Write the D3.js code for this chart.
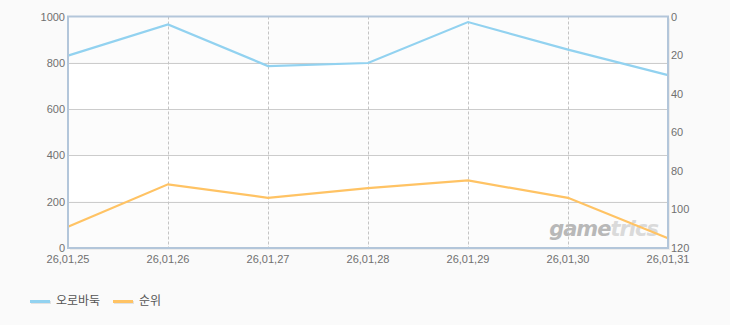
<!DOCTYPE html>
<html>
<head>
<meta charset="utf-8">
<script src="https://cdn.jsdelivr.net/npm/d3@7"></script>
<style>
  body { margin: 0; background: #fafafa; }
  text { font-family: "Liberation Sans", "Noto Sans CJK KR", sans-serif; }
</style>
</head>
<body>
<div id="chart"></div>
<script>
const WIDTH = 730;
const HEIGHT = 325;

// data
const dates = ['26,01,25', '26,01,26', '26,01,27', '26,01,28', '26,01,29', '26,01,30', '26,01,31'];
const scoreValues = [831, 966, 786, 799, 976, 857, 747];   // 오로바둑, left axis
const rankValues = [109, 87, 94, 89, 85, 94, 115];          // 순위, right axis (reversed)
const leftTicks = [0, 200, 400, 600, 800, 1000];
const rightTicks = [0, 20, 40, 60, 80, 100, 120];
const seriesNames = ['오로바둑', '순위'];
const seriesColors = ['#92d2f0', '#ffc364'];

const plot = { left: 68, right: 668, top: 16.5, bottom: 248 };

const svg = d3.select('#chart').append('svg')
    .attr('width', WIDTH)
    .attr('height', HEIGHT);

const x = d3.scalePoint().domain(dates).range([plot.left, plot.right]);
const yLeft = d3.scaleLinear().domain([0, 1000]).range([plot.bottom, plot.top]);
const yRight = d3.scaleLinear().domain([0, 120]).range([plot.top, plot.bottom]);

// shadow behind the frame
svg.append('rect')
    .attr('x', plot.left + 2).attr('y', plot.top + 2)
    .attr('width', plot.right - plot.left).attr('height', plot.bottom - plot.top)
    .attr('fill', '#ececec');

// alternating bands
const bands = d3.pairs(leftTicks);
svg.append('g').selectAll('rect')
    .data(bands)
    .enter().append('rect')
    .attr('x', plot.left)
    .attr('y', d => yLeft(d[1]))
    .attr('width', plot.right - plot.left)
    .attr('height', d => yLeft(d[0]) - yLeft(d[1]))
    .attr('fill', (d, i) => i % 2 === 0 ? '#fcfcfc' : '#ffffff');

// horizontal grid
svg.append('g').selectAll('line')
    .data(leftTicks.slice(1, -1))
    .enter().append('line')
    .attr('x1', plot.left).attr('x2', plot.right)
    .attr('y1', d => Math.round(yLeft(d)) + 0.5)
    .attr('y2', d => Math.round(yLeft(d)) + 0.5)
    .attr('stroke', '#cccccc');

// vertical dashed grid
svg.append('g').selectAll('line')
    .data(dates.slice(1, -1))
    .enter().append('line')
    .attr('x1', d => Math.round(x(d)) + 0.5)
    .attr('x2', d => Math.round(x(d)) + 0.5)
    .attr('y1', plot.top).attr('y2', plot.bottom)
    .attr('stroke', '#c4c4c4')
    .attr('stroke-dasharray', '3,2');

// watermark
const wm = svg.append('text')
    .attr('x', 658).attr('y', 236)
    .attr('text-anchor', 'end')
    .style('font-family', '"DejaVu Sans", sans-serif')
    .style('font-size', '21px')
    .style('font-weight', 'bold')
    .style('font-style', 'italic')
    .style('letter-spacing', '-1px');
wm.append('tspan').attr('fill', '#b8b8b8').text('game');
wm.append('tspan').attr('fill', '#dadada').text('trics');

// lines
const scoreLine = d3.line().x((d, i) => x(dates[i])).y(d => yLeft(d));
const rankLine = d3.line().x((d, i) => x(dates[i])).y(d => yRight(d));

svg.append('path')
    .attr('d', scoreLine(scoreValues))
    .attr('fill', 'none')
    .attr('stroke', seriesColors[0])
    .attr('stroke-width', 2.2);

svg.append('path')
    .attr('d', rankLine(rankValues))
    .attr('fill', 'none')
    .attr('stroke', seriesColors[1])
    .attr('stroke-width', 2.2);

// frame
svg.append('rect')
    .attr('x', plot.left).attr('y', plot.top)
    .attr('width', plot.right - plot.left).attr('height', plot.bottom - plot.top)
    .attr('fill', 'none')
    .attr('stroke', '#b3c6da')
    .attr('stroke-width', 2);

// axis labels
svg.append('g').selectAll('text')
    .data(leftTicks)
    .enter().append('text')
    .attr('x', 65)
    .attr('y', d => yLeft(d) + 4)
    .attr('text-anchor', 'end')
    .attr('fill', '#707070')
    .style('font-size', '11px')
    .text(d => d);

svg.append('g').selectAll('text')
    .data(rightTicks)
    .enter().append('text')
    .attr('x', 671)
    .attr('y', d => yRight(d) + 4)
    .attr('fill', '#707070')
    .style('font-size', '11px')
    .text(d => d);

svg.append('g').selectAll('text')
    .data(dates)
    .enter().append('text')
    .attr('x', d => x(d))
    .attr('y', 263)
    .attr('text-anchor', 'middle')
    .attr('fill', '#707070')
    .style('font-size', '11px')
    .text(d => d);

// legend
const legend = svg.append('g').selectAll('g')
    .data(seriesNames)
    .enter().append('g')
    .attr('transform', (d, i) => `translate(${30 + i * 83},301)`);

legend.append('rect')
    .attr('x', 1).attr('y', 0).attr('width', 20).attr('height', 3)
    .attr('fill', '#e2e2e2');
legend.append('rect')
    .attr('x', 0).attr('y', -1).attr('width', 20).attr('height', 3)
    .attr('fill', (d, i) => seriesColors[i]);
legend.append('text')
    .attr('x', 26).attr('y', 4)
    .attr('fill', '#555')
    .style('font-family', '"Noto Sans CJK KR", sans-serif')
    .style('font-size', '12px')
    .text(d => d);
</script>
</body>
</html>
